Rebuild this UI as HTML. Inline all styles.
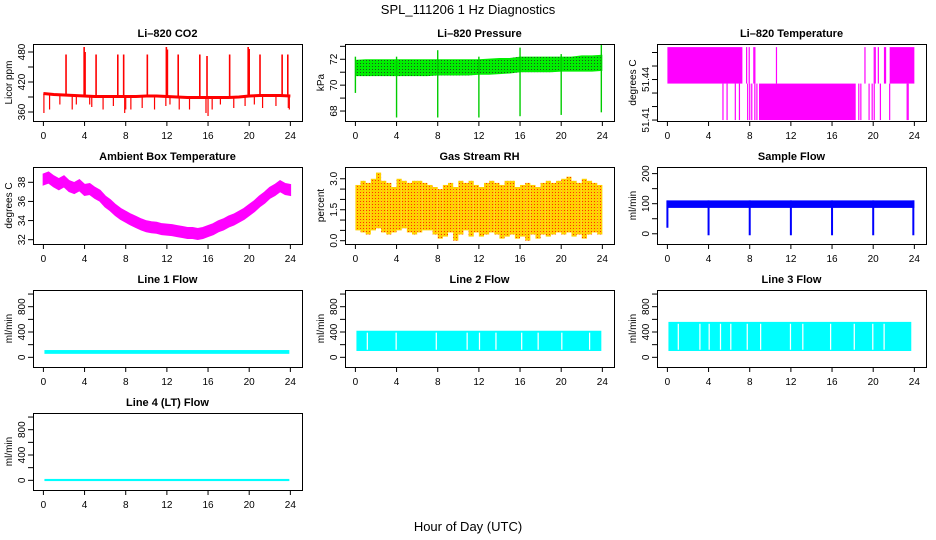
<!DOCTYPE html>
<html><head><meta charset="utf-8"><style>
body{margin:0;background:#fff}
svg{display:block;font-family:"Liberation Sans",Arial,sans-serif}
</style></head><body>
<svg id="c" width="936" height="540" xmlns="http://www.w3.org/2000/svg">
<defs>
<pattern id="pdots" width="3" height="3" patternUnits="userSpaceOnUse"><rect width="3" height="3" fill="#00ee00"/><rect width="1" height="1" fill="#205020"/></pattern>
<pattern id="rhdots" width="3" height="3" patternUnits="userSpaceOnUse"><rect width="3" height="3" fill="#ffd000"/><rect width="1" height="1" fill="#ff3000"/></pattern>
</defs>
<text x="468" y="14" font-size="13" text-anchor="middle">SPL_111206  1 Hz Diagnostics</text>
<text x="468" y="531" font-size="13" text-anchor="middle">Hour of Day (UTC)</text>
</svg>
<script>
// ---------- data ----------
const xTicks=[0,4,8,12,16,20,24];
// CO2
const co2Hours=[0,1,2,3,4,5,6,7,8,9,10,11,12,13,14,15,16,17,18,19,20,21,22,23,24];
const co2Base=[397,395,394,393,392,391,391,391,391,391,392,392,391,390,389,389,389,389,389,390,392,393,393,393,392];
const co2UpHours=[2.2,3.96,4.05,5.12,7.23,7.8,10.1,11.95,12.05,13.1,15.2,15.9,18.1,19.9,20.0,21.05,23.2,23.75];
const co2UpPeaks=[475,490,480,475,475,475,475,490,485,475,475,472,475,490,486,475,475,475];
const co2DownHours=[0.05,0.6,1.6,2.8,3.2,4.5,4.7,5.8,6.8,7.9,8.0,8.5,9.6,10.8,11.9,12.3,13.2,14.2,15.8,16.0,16.4,17.2,18.5,19.6,20.5,21.3,22.6,23.8,23.9];
const co2DownMins=[358,365,375,365,375,375,370,365,372,358,365,365,368,365,372,375,365,365,358,352,365,375,368,372,375,368,372,368,365];
// Pressure
const pLow=[70.7,70.7,70.7,70.7,70.7,70.7,70.7,70.7,70.75,70.75,70.75,70.75,70.8,70.8,70.85,70.9,71.0,71.0,71.0,71.0,71.05,71.05,71.05,71.05,71.1];
const pHigh=[71.95,72.0,72.0,72.0,72.0,72.0,72.0,72.0,72.0,72.0,72.0,72.0,72.0,72.05,72.1,72.1,72.2,72.2,72.2,72.2,72.2,72.2,72.3,72.3,72.35];
const pDropHours=[0,4,8,12,16,20,23.9];
const pDropMin=[69.4,67.5,67.5,67.5,67.6,67.7,67.9];
const pDropMax=[72.2,72.2,72.7,72.2,72.9,72.4,73.1];
// Li-820 temperature levels
const tLevels=[51.41,51.437,51.464];
const tHighBlocks=[[0,7.2],[21.6,24]];
const tHighLines=[7.23,7.7,7.95,8.4,8.5,10.6,19.2,20.1,20.2,20.5,21.1,21.2];
const tLowBlocks=[[8.9,18.3]];
const tLowLines=[5.4,5.8,6.6,7.0,7.8,8.0,8.2,8.5,8.7,18.6,18.8,19.6,19.9,20.1,20.7,21.6,23.3,23.4];
// Ambient box temperature (half-hourly centre)
const ambCentre=[38.3,38.5,38.1,37.8,38.1,37.6,37.4,37.7,37.2,37.3,36.9,36.6,36.0,35.6,35.1,34.7,34.4,34.1,33.85,33.6,33.4,33.3,33.25,33.1,33.05,33.0,32.9,32.8,32.7,32.7,32.6,32.7,32.9,33.1,33.4,33.6,33.9,34.1,34.4,34.7,35.1,35.5,36.0,36.4,36.9,37.2,37.6,37.3,37.2];
const ambHalfWidth=[0.55];
// RH (half-hour bins)
const rhMax=[2.7,2.9,2.8,3.0,3.3,2.9,2.8,2.6,3.0,2.9,2.8,2.9,2.9,2.8,2.7,2.6,2.5,2.7,2.8,2.6,2.9,2.8,2.9,2.7,2.6,2.8,2.9,2.8,2.7,2.9,2.9,2.6,2.7,2.8,2.7,2.6,2.8,2.9,2.8,2.9,3.0,3.1,2.9,2.8,3.0,2.9,2.8,2.7];
const rhMin=[0.5,0.4,0.3,0.5,0.6,0.4,0.3,0.4,0.5,0.6,0.4,0.3,0.4,0.5,0.5,0.3,0.1,0.2,0.4,0.0,0.3,0.5,0.2,0.4,0.2,0.3,0.4,0.3,0.1,0.2,0.3,0.1,0.2,0.0,0.3,0.1,0.3,0.2,0.3,0.4,0.3,0.4,0.2,0.3,0.1,0.3,0.4,0.3];
// Sample flow
const sfLow=[86,86];
const sfHigh=[111,111];
const sfDropHours=[0,4,8,12,16,20,23.9];
const sfDropMin=[20,-5,-5,-5,-5,-5,-5];
// Line flows
const l1Band=[55,115];
const l2Band=[100,420];
const l3Band=[100,560];
const l4Band=[-12,22];
const l2Gaps=[1.1,3.9,7.8,10.8,12.0,13.6,16.1,17.7,20.0,22.7];
const l3Gaps=[1.0,3.1,4.0,5.1,6.1,7.7,9.0,11.9,13.1,15.8,18.1,19.9,21.0];

// ---------- drawing ----------
const svg=document.getElementById('c');
const NS='http://www.w3.org/2000/svg';
function mk(tag,attrs,parent){const e=document.createElementNS(NS,tag);for(const k in attrs)e.setAttribute(k,attrs[k]);(parent||svg).appendChild(e);return e;}
const colL=[33,345,657];
function panel(col,row,name,title,ylab,ymin,ymax,yticks,ylabels){
  const L=colL[col],T=44+123*row,W=269,H=77;
  const g=mk('g',{});
  
  
  const x=h=>L+10.4+h*10.29;
  const y=v=>T+H-(v-ymin)/(ymax-ymin)*H;
  const plot=mk('g',{},g);
  
  
  const cp='cp'+col+row;
  const clip=mk('clipPath',{id:cp},g);mk('rect',{x:L,y:T,width:W,height:H},clip);
  plot.setAttribute('clip-path','url(#'+cp+')');
  const box=mk('rect',{x:L+0.5,y:T+0.5,width:W,height:H,fill:'none',stroke:'#000','stroke-width':1},g);
  
  
  const t=mk('text',{x:L+W/2,y:T-7,'font-size':11,'font-weight':'bold','text-anchor':'middle'},g);t.textContent=title;
  
  
  xTicks.forEach(h=>{
    mk('line',{x1:x(h),x2:x(h),y1:T+H,y2:T+H+5,stroke:'#000'},g);
    const tl=mk('text',{x:x(h),y:T+H+18,'font-size':10,'text-anchor':'middle'},g);tl.textContent=h;
    
    
  });
  yticks.forEach((v,i)=>{
    mk('line',{x1:L-5,x2:L,y1:y(v),y2:y(v),stroke:'#000'},g);
    if(ylabels[i]!==''){
      const tl=mk('text',{x:0,y:0,'font-size':10,'text-anchor':'middle',transform:`translate(${L-8},${y(v)}) rotate(-90)`},g);tl.textContent=ylabels[i];
      
      
    }
  });
  const yt=mk('text',{x:0,y:0,'font-size':10,'text-anchor':'middle',transform:`translate(${L-21},${T+H/2}) rotate(-90)`},g);yt.textContent=ylab;
  
  
  return {x,y,plot,L,T,W,H};
}
function vline(p,h,v1,v2,col,w){return mk('line',{x1:p.x(h),x2:p.x(h),y1:p.y(v1),y2:p.y(v2),stroke:col,'stroke-width':w||1.2},p.plot);}
function band(p,h1,h2,v1,v2,fill){const a=p.y(v1),b=p.y(v2);return mk('rect',{x:p.x(h1),y:Math.min(a,b),width:p.x(h2)-p.x(h1),height:Math.abs(a-b),fill},p.plot);}

// CO2
let p=panel(0,0,'co2','Li\u2013820 CO2','Licor ppm',342,496,[360,390,420,450,480],['360','','420','','480']);
co2UpHours.forEach((h,i)=>vline(p,h,co2Base[Math.round(h)],co2UpPeaks[i],'#ff0000',1.6));
co2DownHours.forEach((h,i)=>vline(p,h,co2Base[Math.round(h)],co2DownMins[i],'#ff0000',1.2));
mk('polyline',{points:co2Hours.map((h,i)=>p.x(h)+','+p.y(co2Base[i])).join(' '),fill:'none',stroke:'#ff0000','stroke-width':3},p.plot);

// Pressure
p=panel(1,0,'pressure','Li\u2013820 Pressure','kPa',67.23,73.18,[68,69,70,71,72,73],['68','','70','','72','']);
mk('polygon',{points:pHigh.map((v,i)=>p.x(i)+','+p.y(v)).concat(pLow.map((v,i)=>p.x(i)+','+p.y(v)).reverse()).join(' '),fill:'url(#pdots)'},p.plot);
pDropHours.forEach((h,i)=>vline(p,h,pDropMin[i],pDropMax[i],'#00cc00',1.4));

// Li-820 temperature
p=panel(2,0,'li820-temperature','Li\u2013820 Temperature','degrees C',51.4093,51.4663,[51.41,51.42,51.43,51.44,51.45,51.46],['51.41','','','51.44','','']);
tHighBlocks.forEach(b=>band(p,b[0],b[1],tLevels[1],tLevels[2],'#ff00ff'));
tLowBlocks.forEach(b=>band(p,b[0],b[1],tLevels[0],tLevels[1],'#ff00ff'));
tHighLines.forEach(h=>vline(p,h,tLevels[1],tLevels[2],'#ff00ff',1.2));
tLowLines.forEach(h=>vline(p,h,tLevels[0],tLevels[1],'#ff00ff',1.2));

// Ambient
p=panel(0,1,'ambient-temperature','Ambient Box Temperature','degrees C',31.55,39.6,[32,34,36,38],['32','34','36','38']);
{const hw=ambHalfWidth[0];const top=ambCentre.map((v,i)=>p.x(i/2)+','+p.y(v+hw));const bot=ambCentre.map((v,i)=>p.x(i/2)+','+p.y(v-hw)).reverse();
mk('polygon',{points:top.concat(bot).join(' '),fill:'#ff00ff',stroke:'#ff00ff','stroke-width':1.5},p.plot);}

// RH
p=panel(1,1,'gas-stream-rh','Gas Stream RH','percent',-0.16,3.57,[0,0.5,1,1.5,2,2.5,3],['0.0','','','1.5','','','3.0']);
rhMax.forEach((v,i)=>band(p,i/2,i/2+0.5,rhMin[i],v,'url(#rhdots)'));

// Sample flow
p=panel(2,1,'sample-flow','Sample Flow','ml/min',-34,222,[0,50,100,150,200],['0','','100','','200']);
band(p,0,24,sfLow[0],sfHigh[0],'#0000ff');
sfDropHours.forEach((h,i)=>vline(p,h,sfDropMin[i],sfHigh[0],'#0000ff',2));

const lt=[0,200,400,600,800,1000],ll=['0','','400','','800',''];
function flowPanel(col,row,name,title,bnd,gaps,end){
  const q=panel(col,row,name,title,'ml/min',-153,1064,lt,ll);
  band(q,0.1,end,bnd[0],bnd[1],'#00ffff');
  gaps.forEach(h=>{band(q,h,h+0.12,bnd[0]+20,bnd[1]-30,'#ffffff');});
  return q;
}
flowPanel(0,2,'line1-flow','Line 1 Flow',l1Band,[],23.9);
flowPanel(1,2,'line2-flow','Line 2 Flow',l2Band,l2Gaps,23.9);
flowPanel(2,2,'line3-flow','Line 3 Flow',l3Band,l3Gaps,23.7);
flowPanel(0,3,'line4-flow','Line 4 (LT) Flow',l4Band,[],23.9);
</script>
</body></html>
